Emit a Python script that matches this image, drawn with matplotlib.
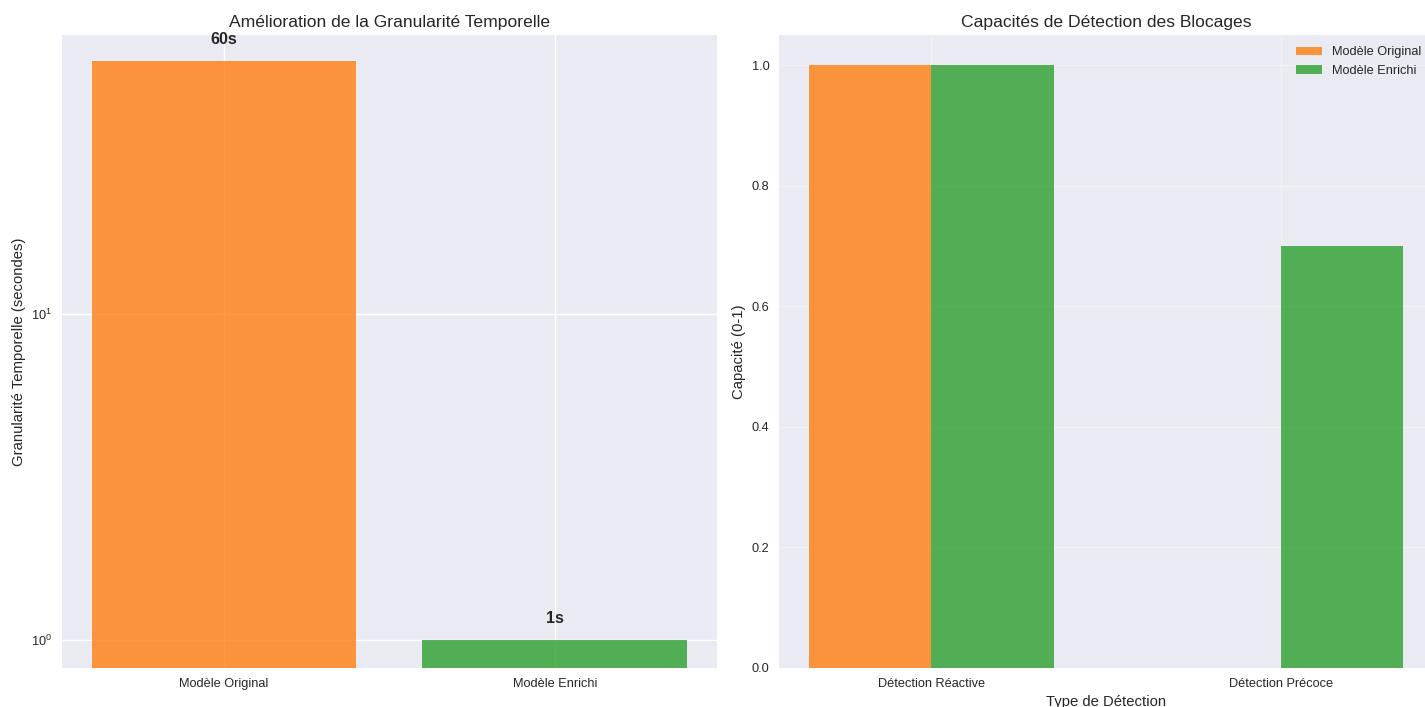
import numpy as np
import matplotlib
matplotlib.use("Agg")
import matplotlib.pyplot as plt

plt.style.use("seaborn-v0_8")

# granularity (seconds) per model
models = ["Modèle Original", "Modèle Enrichi"]
granularity = [60, 1]
granularity_labels = ["60s", "1s"]

# detection capability per detection type
detection_types = ["Détection Réactive", "Détection Précoce"]
capacity_original = [1.0, 0.0]
capacity_enriched = [1.0, 0.7]

c_orig = "#ff7f0e"
c_enr = "#2ca02c"

fig = plt.figure(figsize=(14.25, 7.07), dpi=100)
ax1 = fig.add_axes([0.0435, 0.0552, 0.4595, 0.8953])
ax2 = fig.add_axes([0.5467, 0.0552, 0.4589, 0.8953])

# left: temporal granularity, log scale
x1 = np.arange(len(models))
ax1.bar(x1, granularity, color=[c_orig, c_enr], alpha=0.8)
ax1.set_yscale("log")
ax1.set_ylim(0.82, 72)
for xi, v, lab in zip(x1, granularity, granularity_labels):
    ax1.text(xi, v * 1.1, lab, ha="center", va="bottom",
             fontsize=11.5, fontweight="bold")
ax1.set_xticks(x1)
ax1.set_xticklabels(models, fontsize=9.2)
ax1.tick_params(axis="y", labelsize=9.2)
ax1.set_ylabel("Granularité Temporelle (secondes)", fontsize=10.7)
ax1.set_title("Amélioration de la Granularité Temporelle", fontsize=12.6)

# right: detection capabilities, grouped bars
x2 = np.arange(len(detection_types))
width = 0.35
ax2.bar(x2 - width / 2, capacity_original, width, color=c_orig, alpha=0.8,
        label="Modèle Original")
ax2.bar(x2 + width / 2, capacity_enriched, width, color=c_enr, alpha=0.8,
        label="Modèle Enrichi")
ax2.set_xticks(x2)
ax2.set_xticklabels(detection_types, fontsize=9.2)
ax2.tick_params(axis="y", labelsize=9.2)
ax2.set_ylabel("Capacité (0-1)", fontsize=10.7)
ax2.set_xlabel("Type de Détection", fontsize=10.7)
ax2.set_title("Capacités de Détection des Blocages", fontsize=12.6)
ax2.legend(fontsize=9.2, loc="upper right")
ax2.grid(True, alpha=0.3)

fig.savefig("out.png", dpi=100)
